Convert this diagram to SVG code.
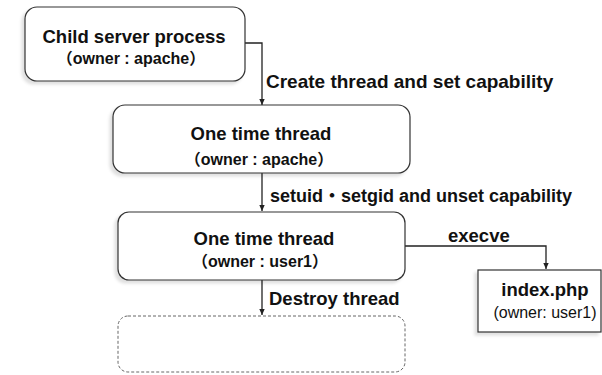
<svg xmlns="http://www.w3.org/2000/svg" width="602" height="375" viewBox="0 0 602 375">
  <style>
    .box { fill: #ffffff; stroke: #333333; stroke-width: 1.2; }
    .ghost { fill: none; stroke: #666666; stroke-width: 1; stroke-dasharray: 3 2; }
    .edge { fill: none; stroke: #222222; stroke-width: 1.3; }
    .title { font-family: "Liberation Sans", Arial, sans-serif; font-weight: bold; font-size: 18.5px; fill: #111111; text-anchor: middle; }
    .owner { font-family: "Liberation Sans", "Noto Sans CJK JP", sans-serif; font-weight: bold; font-size: 16px; fill: #111111; text-anchor: middle; }
    .owner2 { font-family: "Liberation Sans", Arial, sans-serif; font-size: 16px; fill: #111111; text-anchor: middle; }
    .label { font-family: "Liberation Sans", "Noto Sans CJK JP", sans-serif; font-weight: bold; font-size: 18.5px; fill: #111111; }
  </style>
  <defs>
    <marker id="arrow" markerWidth="6" markerHeight="7" refX="6" refY="3.5" orient="auto" markerUnits="userSpaceOnUse">
      <path d="M0,0.8 L6,3.5 L0,6.2 Z" fill="#222222"/>
    </marker>
    <filter id="shadow" x="-10%" y="-10%" width="120%" height="130%">
      <feDropShadow dx="-3" dy="3" stdDeviation="1.5" flood-color="#000000" flood-opacity="0.12"/>
    </filter>
  </defs>
  <rect width="602" height="375" fill="#ffffff"/>

  <g id="connectors">
    <path class="edge" d="M245,43 H262 V105" marker-end="url(#arrow)"/>
    <path class="edge" d="M262,173 V211" marker-end="url(#arrow)"/>
    <path class="edge" d="M262,280 V315" marker-end="url(#arrow)"/>
    <path class="edge" d="M405,246 H546 V269" marker-end="url(#arrow)"/>
    <text class="label" x="266" y="88" style="font-size:19px">Create thread and set capability</text>
    <text class="label" x="270" y="202" style="font-size:18px">setuid・setgid and unset capability</text>
    <text class="label" x="269" y="305">Destroy thread</text>
    <text class="label" x="448" y="242">execve</text>
  </g>

  <g id="child-server-process">
    <rect class="box" x="25" y="7" width="220" height="74" rx="12" filter="url(#shadow)"/>
    <text class="title" x="134" y="43">Child server process</text>
    <text class="owner" x="131" y="64">（owner : apache）</text>
  </g>

  <g id="thread-apache">
    <rect class="box" x="113" y="105" width="297" height="68" rx="12" filter="url(#shadow)"/>
    <text class="title" x="261" y="140">One time thread</text>
    <text class="owner" x="259" y="165">（owner : apache）</text>
  </g>

  <g id="thread-user1">
    <rect class="box" x="118" y="212" width="287" height="68" rx="11" filter="url(#shadow)"/>
    <text class="title" x="264" y="245">One time thread</text>
    <text class="owner" x="260" y="267">（owner : user1）</text>
  </g>

  <g id="destroyed-thread">
    <rect class="ghost" x="118" y="316" width="287" height="56" rx="10"/>
  </g>

  <g id="index-php">
    <rect x="478" y="270" width="123" height="62" fill="#ffffff" stroke="#333333" stroke-width="1.2" filter="url(#shadow)"/>
    <text class="title" x="545" y="296">index.php</text>
    <text class="owner2" x="545" y="318">(owner: user1)</text>
  </g>
</svg>
